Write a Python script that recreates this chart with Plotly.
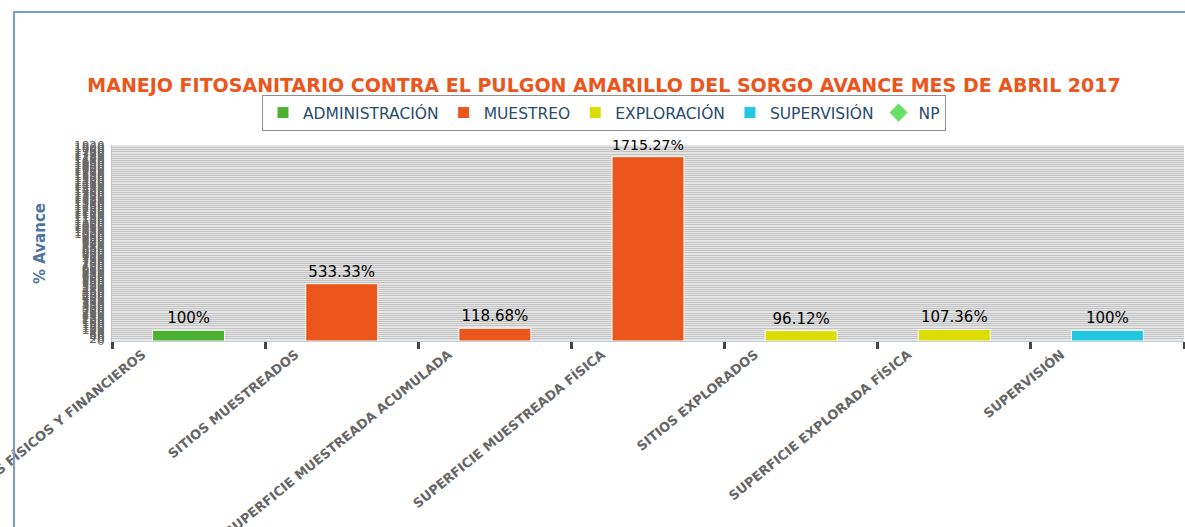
import plotly.graph_objects as go

# ---- data ----
categories = [
    "AVANCES FÍSICOS Y FINANCIEROS",
    "SITIOS MUESTREADOS",
    "SUPERFICIE MUESTREADA ACUMULADA",
    "SUPERFICIE MUESTREADA FÍSICA",
    "SITIOS EXPLORADOS",
    "SUPERFICIE EXPLORADA FÍSICA",
    "SUPERVISIÓN",
]
admin_cats = ["AVANCES FÍSICOS Y FINANCIEROS"]
admin_vals = [100]
muestreo_cats = ["SITIOS MUESTREADOS", "SUPERFICIE MUESTREADA ACUMULADA", "SUPERFICIE MUESTREADA FÍSICA"]
muestreo_vals = [533.33, 118.68, 1715.27]
explor_cats = ["SITIOS EXPLORADOS", "SUPERFICIE EXPLORADA FÍSICA"]
explor_vals = [96.12, 107.36]
superv_cats = ["SUPERVISIÓN"]
superv_vals = [100]

title_text = "MANEJO FITOSANITARIO CONTRA EL PULGON AMARILLO DEL SORGO AVANCE MES DE ABRIL 2017"

FONT = "DejaVu Sans"
W, H = 1185, 527
L, R, T, B = 112, 1, 145, 186
pw, ph = W - L - R, H - T - B


def px_x(p):
    return (p - L) / pw


def px_y(p):
    return (H - B - p) / ph


fig = go.Figure()


def add_bar(name, xs, ys, color):
    fig.add_trace(go.Bar(
        name=name, x=xs, y=ys, width=0.47,
        marker=dict(color=color, line=dict(color="white", width=1)),
        text=[f"{v:g}%" for v in ys], textposition="outside",
        textfont=dict(family=FONT, size=15, color="#000000"),
        cliponaxis=False,
    ))


add_bar("ADMINISTRACIÓN", admin_cats, admin_vals, "#4cb030")
add_bar("MUESTREO", muestreo_cats, muestreo_vals, "#ea561b")
add_bar("EXPLORACIÓN", explor_cats, explor_vals, "#dcdc00")
add_bar("SUPERVISIÓN", superv_cats, superv_vals, "#22c8e0")
fig.add_trace(go.Scatter(
    name="NP", x=[None], y=[None], mode="markers",
    marker=dict(symbol="diamond", size=14, color="#66e066"),
))

fig.update_layout(
    width=W, height=H,
    margin=dict(l=L, r=R, t=T, b=B, autoexpand=False),
    paper_bgcolor="white",
    plot_bgcolor="#e4e4e4",
    barmode="overlay",
    font=dict(family=FONT),
    title=dict(
        text=f"<b>{title_text}</b>",
        font=dict(family=FONT, size=19, color="#ea561b"),
        xref="paper", x=px_x(604), xanchor="center",
        yref="container", y=1 - 85 / H, yanchor="middle",
    ),
    legend=dict(
        orientation="h",
        xref="paper", x=px_x(604), xanchor="center",
        yref="paper", y=px_y(95), yanchor="top",
        bordercolor="#8f8f8f", borderwidth=1,
        bgcolor="white",
        font=dict(family=FONT, size=15.5, color="#274b6d"),
        itemclick=False,
    ),
    xaxis=dict(
        type="category",
        automargin=False,
        categoryorder="array", categoryarray=categories,
        tickson="boundaries",
        ticks="outside", ticklen=7, tickwidth=3, tickcolor="#444444",
        tickangle=-39,
        ticklabelshift=-46,
        tickfont=dict(family=FONT, size=13, color="#666666", weight="bold"),
        showline=True, linecolor="#c0d0e0", linewidth=1,
        showgrid=False,
        range=[-0.5, len(categories) - 0.5],
    ),
    yaxis=dict(
        automargin=False,
        range=[0, 1824],
        tickmode="linear", tick0=0, dtick=20,
        tickfont=dict(family=FONT, size=12, color="#666666"),
        ticklabelstandoff=4,
        showgrid=True, gridcolor="#c4c4c4", gridwidth=1,
        showline=True, linecolor="#c0c0c0", linewidth=1,
        zeroline=False,
    ),
    annotations=[dict(
        text="<b>% Avance</b>", textangle=-90,
        xref="paper", yref="paper", x=px_x(40), y=px_y(244),
        xanchor="center", yanchor="middle", showarrow=False,
        font=dict(family=FONT, size=15, color="#4d759e"),
    )],
    shapes=[
        dict(type="line", xref="paper", yref="paper",
             x0=px_x(13), x1=px_x(1200), y0=px_y(12), y1=px_y(12),
             line=dict(color="#7a9cc8", width=2)),
        dict(type="line", xref="paper", yref="paper",
             x0=px_x(14), x1=px_x(14), y0=px_y(12), y1=px_y(540),
             line=dict(color="#7a9cc8", width=2)),
    ],
    showlegend=True,
)

fig.write_html("out.html")
